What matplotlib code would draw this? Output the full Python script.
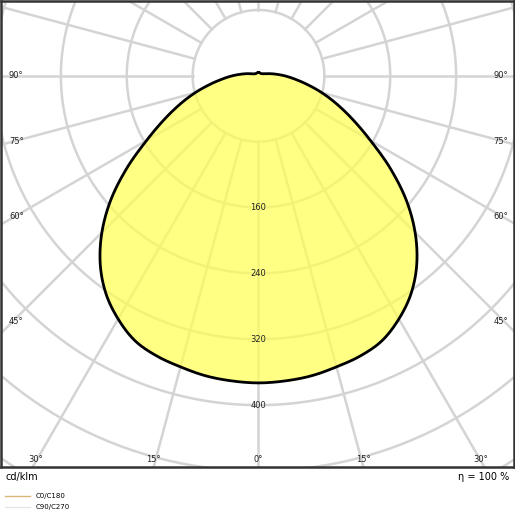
import numpy as np
import matplotlib
matplotlib.use("Agg")
import matplotlib.pyplot as plt

angles = [0,5,10,15,20,25,30,35,40,45,50,55,60,65,70,75,80,85,90,95,100,105,110,120,135,150,165,180]
intensity = [373,372,370,366,362,355,341,323,299,269,234,195,157,127,102,80,60,44,32,22,15,10,7,5,4,4,4,4]
ring_labels = [160,240,320,400]
side_labels = [90,75,60,45]
bottom_labels = [30,15,0,15,30]

k = 66/80.0  # px per cd
W, H = 515, 515
fig = plt.figure(figsize=(W/100, H/100), dpi=100)
ax = fig.add_axes([1/W, (H-467)/H, 513/W, 466/H])
ax.set_xlim(-258/k, 256/k)
ax.set_ylim(-392/k, 75/k)
ax.set_aspect('auto')
ax.set_xticks([]); ax.set_yticks([])
for s in ax.spines.values():
    s.set_color('#333333'); s.set_linewidth(1.8)

gc = '#d4d4d4'
t = np.linspace(0, 2*np.pi, 400)
for r in range(80, 1000, 80):
    ax.plot(r*np.sin(t), r*np.cos(t), color=gc, lw=1.8, zorder=1)
for a in range(0, 360, 15):
    ar = np.radians(a)
    ax.plot([80*np.sin(ar), 1000*np.sin(ar)], [-80*np.cos(ar), -1000*np.cos(ar)], color=gc, lw=1.8, zorder=1)

# curve (symmetric), smoothed with closed Catmull-Rom
th = np.radians(np.array(angles, float))
I = np.array(intensity, float)
full_th = np.concatenate([-th[::-1], th[1:-1]])
full_I = np.concatenate([I[::-1], I[1:-1]])
P = np.column_stack([full_I*np.sin(full_th), -full_I*np.cos(full_th)])
n = len(P)
pts = []
for i in range(n):
    p0, p1, p2, p3 = P[(i-1) % n], P[i], P[(i+1) % n], P[(i+2) % n]
    for u in np.linspace(0, 1, 12, endpoint=False):
        pts.append(0.5*((2*p1) + (-p0+p2)*u + (2*p0-5*p1+4*p2-p3)*u**2 + (-p0+3*p1-3*p2+p3)*u**3))
pts.append(pts[0])
pts = np.array(pts)
ax.fill(pts[:, 0], pts[:, 1], color='#ffff55', alpha=0.72, zorder=2, lw=0)
ax.plot(pts[:, 0], pts[:, 1], color='black', lw=2, zorder=3)

for r in ring_labels:
    ax.text(0, -r, str(r), ha='center', va='center', fontsize=6, color='#222', zorder=4)

fs = 6
ypx = {90: 75, 75: 141, 60: 216, 45: 321}
for a in side_labels:
    yy = (75 - ypx[a])/k
    ax.text(-250/k, yy, f"{a}°", ha='left', va='center', fontsize=fs, color='#222')
    ax.text(250/k, yy, f"{a}°", ha='right', va='center', fontsize=fs, color='#222')
xpx = [35, 153, 258, 363, 481]
for a, xp in zip(bottom_labels, xpx):
    ax.text((xp-258)/k, -384/k, f"{a}°", ha='center', va='center', fontsize=fs, color='#222')

fig.text(6/W, 1-477/H, "cd/klm", ha='left', va='center', fontsize=7)
fig.text(509/W, 1-477/H, "η = 100 %", ha='right', va='center', fontsize=7)
fig.lines.append(plt.Line2D([5/W, 30/W], [1-496/H, 1-496/H], color='#d9b77a', lw=1, transform=fig.transFigure))
fig.lines.append(plt.Line2D([5/W, 30/W], [1-507/H, 1-507/H], color='#e6e6e6', lw=1, transform=fig.transFigure))
fig.text(36/W, 1-496/H, "C0/C180", ha='left', va='center', fontsize=5)
fig.text(36/W, 1-507/H, "C90/C270", ha='left', va='center', fontsize=5)

fig.savefig("out.png", dpi=100)
